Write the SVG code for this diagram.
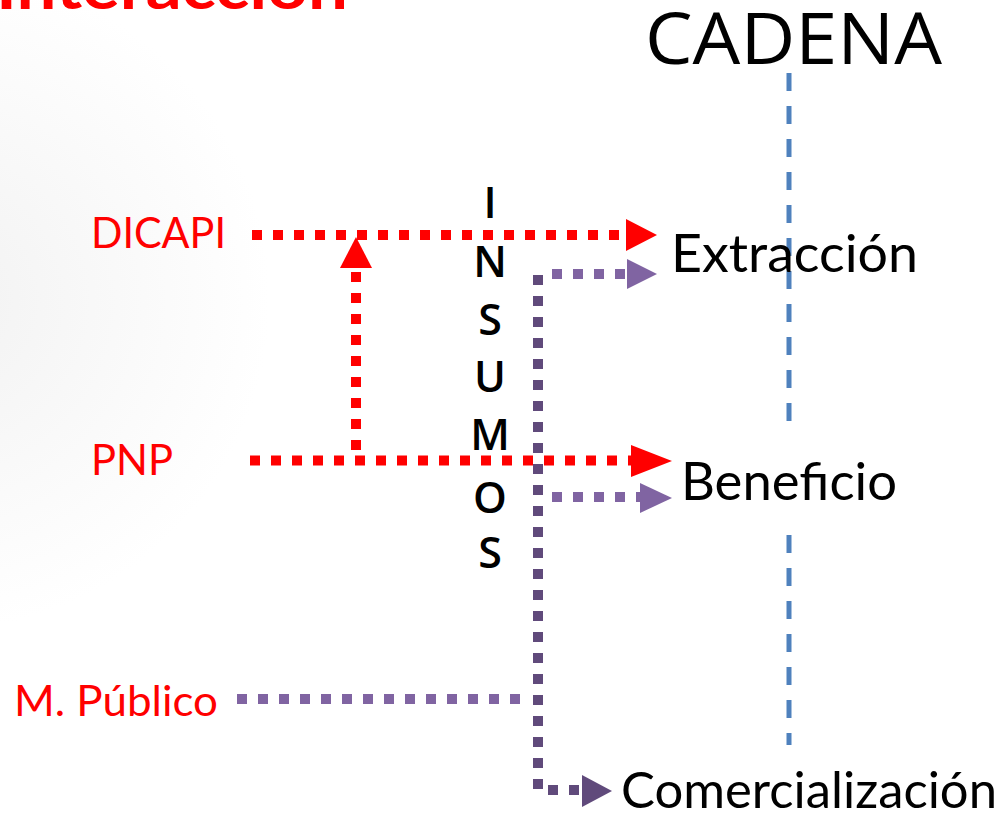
<svg xmlns="http://www.w3.org/2000/svg" width="999" height="826" viewBox="0 0 999 826">
<defs>
<radialGradient id="bg" gradientUnits="userSpaceOnUse" cx="-60" cy="300" r="330">
<stop offset="0" stop-color="#f2f2f2"/>
<stop offset="1" stop-color="#ffffff"/>
</radialGradient>
</defs>
<style>
.t{font-family:"Lato","Open Sans","Liberation Sans",sans-serif}
.red{fill:#ff0000}
.blk{fill:#000000}
.dr{fill:none;stroke:#ff0000;stroke-width:10;stroke-dasharray:10 11}
.dp{fill:none;stroke:#604a7b;stroke-width:10;stroke-dasharray:10 11}
.lp{fill:none;stroke:#8064a2;stroke-width:10;stroke-dasharray:10 11}
.bl{fill:none;stroke:#4f81bd;stroke-width:5;stroke-dasharray:18 15}
.ins{font-family:"Open Sans","Liberation Sans",sans-serif;font-size:43px;font-weight:600;text-anchor:middle;fill:#000}
</style>
<rect width="999" height="826" fill="#ffffff"/>
<rect width="400" height="826" fill="url(#bg)"/>
<text class="t red" x="-4" y="9" font-size="62" font-weight="bold" textLength="352" lengthAdjust="spacingAndGlyphs">Interacción</text>
<g id="cadena">
<text x="645" y="64" style="font-family:'Open Sans','Liberation Sans',sans-serif" font-size="72" fill="#000" textLength="297" lengthAdjust="spacingAndGlyphs">CADENA</text>
</g>
<g id="connectors">
<path class="bl" d="M789,73 V745"/>
<path class="dp" d="M538,275 V790 H582"/>
<polygon points="582,775 612,791 582,807" fill="#604a7b"/>
<path class="lp" d="M552,274 H627"/>
<polygon points="627,259 657,274 627,289" fill="#8064a2"/>
<path class="lp" d="M552,497 H640"/>
<polygon points="640,483 672,498 640,513" fill="#8064a2"/>
<path class="lp" d="M237,699 H527"/>
<path class="dr" d="M252,235 H626"/>
<polygon points="626,219 657,235 626,251" fill="#ff0000"/>
<path class="dr" d="M250,460.5 H631"/>
<polygon points="631,445 672,461 631,477" fill="#ff0000"/>
<path class="dr" d="M356,450 V268"/>
<polygon points="340,268 356,237 372,268" fill="#ff0000"/>
</g>
<g id="dicapi"><text class="t red" x="91" y="248" font-size="42" textLength="135" lengthAdjust="spacingAndGlyphs">DICAPI</text></g>
<g id="pnp"><text class="t red" x="91" y="475" font-size="42" textLength="82" lengthAdjust="spacingAndGlyphs">PNP</text></g>
<g id="mpublico"><text class="t red" x="14" y="716" font-size="42" textLength="204" lengthAdjust="spacingAndGlyphs">M. Público</text></g>
<g id="insumos">
<text class="ins" x="490" y="218">I</text>
<text class="ins" x="490" y="277">N</text>
<text class="ins" x="490" y="335">S</text>
<text class="ins" x="490" y="392">U</text>
<text class="ins" x="490" y="450">M</text>
<text class="ins" x="490" y="513">O</text>
<text class="ins" x="490" y="568">S</text>
</g>
<g id="extraccion"><text class="t blk" x="671" y="272" font-size="52" textLength="247" lengthAdjust="spacingAndGlyphs">Extracción</text></g>
<g id="beneficio">
<rect x="676" y="433" width="226" height="94" fill="#ffffff"/>
<text class="t blk" x="681" y="500" font-size="52" textLength="216" lengthAdjust="spacingAndGlyphs">Beneficio</text>
</g>
<g id="comercializacion"><text class="t blk" x="621" y="808" font-size="50" textLength="376" lengthAdjust="spacingAndGlyphs">Comercialización</text></g>
</svg>
